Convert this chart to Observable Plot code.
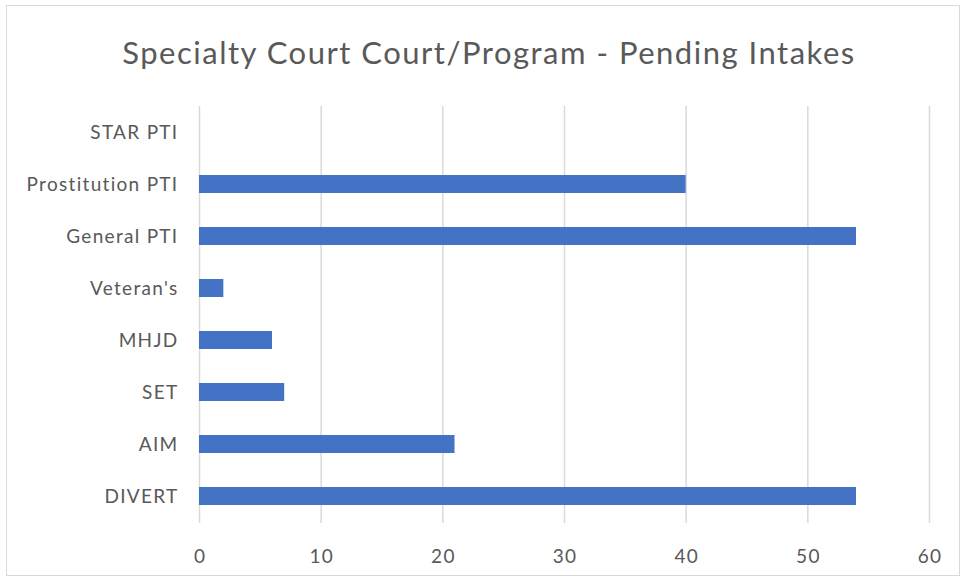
<!DOCTYPE html>
<html>
<head>
<meta charset="utf-8">
<script src="https://cdn.jsdelivr.net/npm/d3@7"></script>
<script src="https://cdn.jsdelivr.net/npm/@observablehq/plot@0.6"></script>
<style>
  html, body { margin: 0; padding: 0; background: #fff; }
  #frame { position: absolute; left: 6px; top: 5px; width: 954px; height: 571px; border: 1.5px solid #d9d9d9; box-sizing: border-box; }
  #title { position: absolute; left: 0; top: 33px; width: 978px; text-align: center; font-family: Lato, sans-serif; font-size: 31px; letter-spacing: 1.5px; color: #595959; white-space: nowrap; }
  #chart { position: absolute; left: 0; top: 90px; }
  #chart svg text { letter-spacing: 1.3px; }
</style>
</head>
<body>
<div id="frame"></div>
<div id="title">Specialty Court Court/Program - Pending Intakes</div>
<div id="chart"></div>
<script>
const categories = ["STAR PTI", "Prostitution PTI", "General PTI", "Veteran's", "MHJD", "SET", "AIM", "DIVERT"];
const values = [0, 40, 54, 2, 6, 7, 21, 54];
const xTicks = [0, 10, 20, 30, 40, 50, 60];

const data = categories.map((c, i) => ({category: c, value: values[i]}));

const chart = Plot.plot({
  width: 964,
  height: 490,
  marginLeft: 199,
  marginRight: 35,
  marginTop: 16,
  marginBottom: 57,
  style: {fontFamily: "Lato, sans-serif", fontSize: "19px", color: "#595959", background: "transparent"},
  x: {domain: [0, 60], ticks: xTicks, label: null},
  y: {domain: categories, paddingInner: 0.65, paddingOuter: 0.325, label: null},
  marks: [
    Plot.gridX(xTicks, {stroke: "#d9d9d9", strokeOpacity: 1, strokeWidth: 1.5}),
    Plot.barX(data, {x: "value", y: "category", fill: "#4472c4"}),
    Plot.axisX({ticks: xTicks, tickSize: 0, tickPadding: 26, fontSize: 19, label: null, dx: 0.6}),
    Plot.axisY({tickSize: 0, tickPadding: 21, fontSize: 19, label: null})
  ]
});
document.getElementById("chart").appendChild(chart);
</script>
</body>
</html>
